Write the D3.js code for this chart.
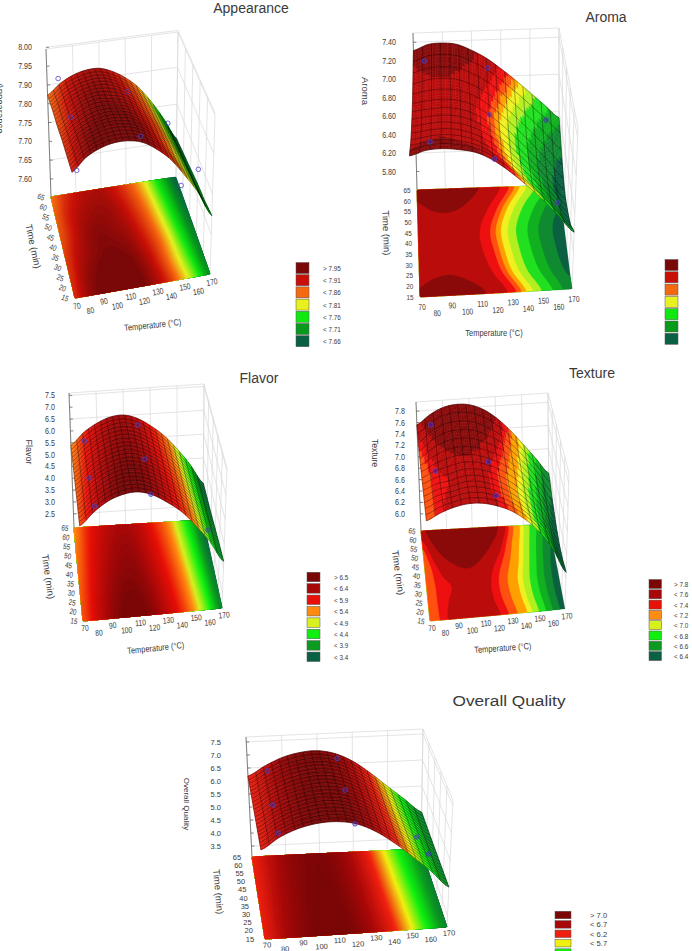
<!DOCTYPE html>
<html>
<head>
<meta charset="utf-8">
<script src="https://cdn.jsdelivr.net/npm/d3@7"></script>
<style>
  html, body { margin: 0; padding: 0; background: #fff; overflow: hidden; }
  svg { display: block; }
  text { font-family: "Liberation Sans", Arial, sans-serif; fill: #3a3a3a; }
</style>
</head>
<body>
<svg id="fig" width="692" height="951"></svg>
<script>
// Sensory response surfaces: temperature (°C) and time (min) against each score.
const temperatures = [70, 80, 90, 100, 110, 120, 130, 140, 150, 160, 170];
const times = [15, 25, 35, 45, 55, 65];
const temperatureTicks = [70, 80, 90, 100, 110, 120, 130, 140, 150, 160, 170];
const timeTicks = [15, 20, 25, 30, 35, 40, 45, 50, 55, 60, 65];

// Scores, one row per time, one column per temperature.
const appearanceScores = [
  [7.89, 7.925, 7.945, 7.955, 7.955, 7.945, 7.92, 7.885, 7.835, 7.78, 7.71],
  [7.885, 7.92, 7.94, 7.95, 7.95, 7.94, 7.915, 7.875, 7.825, 7.77, 7.70],
  [7.88, 7.91, 7.93, 7.94, 7.94, 7.93, 7.905, 7.87, 7.82, 7.76, 7.695],
  [7.87, 7.90, 7.925, 7.935, 7.93, 7.92, 7.895, 7.86, 7.81, 7.75, 7.685],
  [7.865, 7.895, 7.915, 7.925, 7.925, 7.91, 7.885, 7.85, 7.80, 7.74, 7.675],
  [7.855, 7.885, 7.905, 7.915, 7.915, 7.90, 7.875, 7.84, 7.79, 7.73, 7.665]
];
const aromaScores = [
  [7.29, 7.34, 7.35, 7.33, 7.29, 7.20, 7.07, 6.92, 6.76, 6.58, 6.40],
  [7.216, 7.245, 7.257, 7.237, 7.184, 7.085, 6.948, 6.792, 6.626, 6.446, 6.26],
  [7.18, 7.20, 7.21, 7.19, 7.13, 7.03, 6.89, 6.73, 6.56, 6.38, 6.19],
  [7.17, 7.19, 7.20, 7.18, 7.12, 7.01, 6.87, 6.71, 6.54, 6.36, 6.17],
  [7.22, 7.26, 7.27, 7.25, 7.184, 7.085, 6.952, 6.803, 6.644, 6.478, 6.306],
  [7.31, 7.37, 7.38, 7.36, 7.29, 7.20, 7.08, 6.95, 6.81, 6.67, 6.53]
];
const flavorScores = [
  [5.69, 6.2, 6.6, 6.82, 6.88, 6.72, 6.38, 5.95, 5.35, 4.65, 3.8],
  [5.66, 6.17, 6.55, 6.78, 6.82, 6.66, 6.33, 5.88, 5.28, 4.58, 3.75],
  [5.6, 6.1, 6.48, 6.7, 6.75, 6.58, 6.25, 5.8, 5.2, 4.5, 3.67],
  [5.54, 6.03, 6.4, 6.62, 6.67, 6.5, 6.16, 5.71, 5.11, 4.41, 3.58],
  [5.47, 5.97, 6.33, 6.55, 6.6, 6.43, 6.08, 5.63, 5.03, 4.33, 3.51],
  [5.40, 5.9, 6.25, 6.47, 6.52, 6.35, 6.0, 5.55, 4.95, 4.25, 3.44]
];
const textureScores = [
  [7.34, 7.45, 7.53, 7.57, 7.56, 7.50, 7.40, 7.24, 7.02, 6.72, 6.31],
  [7.35, 7.45, 7.50, 7.55, 7.54, 7.47, 7.36, 7.19, 6.96, 6.66, 6.25],
  [7.36, 7.45, 7.49, 7.55, 7.54, 7.47, 7.35, 7.18, 6.95, 6.65, 6.24],
  [7.37, 7.49, 7.58, 7.62, 7.60, 7.52, 7.41, 7.24, 7.0, 6.7, 6.3],
  [7.42, 7.60, 7.71, 7.74, 7.72, 7.63, 7.50, 7.30, 7.06, 6.77, 6.42],
  [7.56, 7.72, 7.83, 7.87, 7.85, 7.76, 7.6, 7.38, 7.12, 6.85, 6.58]
];
const overallScores = [
  [6.24, 6.65, 6.93, 7.08, 7.11, 7.0, 6.7, 6.25, 5.72, 5.15, 4.53],
  [6.23, 6.63, 6.91, 7.06, 7.10, 6.98, 6.68, 6.22, 5.69, 5.12, 4.52],
  [6.22, 6.61, 6.89, 7.05, 7.08, 6.96, 6.65, 6.19, 5.66, 5.1, 4.51],
  [6.21, 6.59, 6.87, 7.03, 7.07, 6.94, 6.63, 6.16, 5.62, 5.07, 4.5],
  [6.2, 6.57, 6.86, 7.01, 7.05, 6.92, 6.6, 6.13, 5.59, 5.04, 4.5],
  [6.19, 6.55, 6.84, 7.0, 7.04, 6.9, 6.58, 6.1, 5.55, 5.02, 4.5]
];

// Observed runs: temperature, time and score of each circle.
const appearanceRunTemp = [75, 127, 75, 125, 75, 157.5, 155, 162];
const appearanceRunTime = [55, 55, 30, 30, 20, 55, 30, 20];
const appearanceRunScore = [7.955, 7.888, 7.968, 7.886, 7.868, 7.775, 7.727, 7.821];
const aromaRunTemp = [78, 120, 159, 81.5, 119, 162, 121];
const aromaRunTime = [55, 55, 55, 30, 30, 30, 20];
const aromaRunScore = [7.415, 7.315, 6.73, 7.10, 7.36, 6.39, 7.105];
const flavorRunTemp = [79, 118.5, 79, 118, 81, 120, 163];
const flavorRunTime = [55, 55, 30, 30, 20, 20, 30];
const flavorRunScore = [6.27, 6.79, 6.53, 7.14, 6.09, 6.4, 4.05];
const textureRunTemp = [79.5, 79, 117, 120];
const textureRunTime = [55, 30, 30, 17.5];
const textureRunScore = [7.83, 7.74, 7.83, 7.6];
const overallRunTemp = [80, 119, 79, 117.6, 80, 120.6, 159.5, 160];
const overallRunTime = [55, 55, 30, 30, 20, 20, 40, 20];
const overallRunScore = [6.92, 7.27, 7.02, 7.44, 6.54, 6.73, 5.02, 5.5];

// Labels printed down the vertical axis of each panel, top to bottom.
const appearanceTickLabels = ["8.00", "7.95", "7.90", "7.80", "7.75", "7.70", "7.65", "7.60"];
const aromaTickLabels = ["7.40", "7.20", "7.00", "6.80", "6.60", "6.40", "6.20", "5.80"];
const flavorTickLabels = ["7.5", "7.0", "6.5", "6.0", "5.5", "5.0", "4.5", "4.0", "3.5", "3.0", "2.5"];
const textureTickLabels = ["7.8", "7.6", "7.4", "7.2", "7.0", "6.8", "6.6", "6.4", "6.2", "6.0"];
const overallTickLabels = ["7.5", "7.0", "6.5", "6.0", "5.5", "5.0", "4.5", "4.0", "3.5"];

// Legend entries, top to bottom.
const appearanceLegend = ["> 7.95", "< 7.91", "< 7.86", "< 7.81", "< 7.76", "< 7.71", "< 7.66"];
const flavorLegend = ["> 6.5", "< 6.4", "< 5.9", "< 5.4", "< 4.9", "< 4.4", "< 3.9", "< 3.4"];
const textureLegend = ["> 7.8", "< 7.6", "< 7.4", "< 7.2", "< 7.0", "< 6.8", "< 6.6", "< 6.4"];
const overallLegend = ["> 7.0", "< 6.7", "< 6.2", "< 5.7", "< 5.2"];

const legendSeven = ["#7a0808", "#c81008", "#f56a10", "#e8f020", "#10e810", "#089a1c", "#0a6044"];
const legendEight = ["#7a0606", "#a80808", "#e81008", "#ff8c10", "#d8f020", "#10f010", "#0c9a20", "#0a6044"];
const legendOverall = ["#7a0606", "#a80808", "#f02010", "#f0f010", "#10f010", "#0c9a20", "#0a6044"];

// Colour stops for the smooth maps, high score first.
const appearanceStops = [7.94, 7.90, 7.855, 7.815, 7.765, 7.715, 7.665];
const flavorStops = [6.8, 6.5, 6.0, 5.35, 5.05, 4.5, 3.95, 3.4];
const overallStops = [7.05, 6.7, 6.15, 5.65, 5.2, 4.7, 4.2];

// Band edges for the banded maps, low score first, with the band colours.
const bandColours = ["#0a6040", "#108a30", "#10b020", "#20e020", "#b0f020", "#f0f020", "#ffa000", "#ff5010", "#ee1010", "#bb0c0c", "#8a0a0a"];
const aromaBands = [6.32, 6.5, 6.63, 6.76, 6.85, 6.92, 6.97, 7.02, 7.1, 7.26];
const textureBands = [6.43, 6.68, 6.85, 7.0, 7.12, 7.2, 7.33, 7.42, 7.48, 7.6];

const tempUnit = d3.scaleLinear().domain([70, 170]).range([0, 1]);
const timeUnit = d3.scaleLinear().domain([15, 65]).range([0, 1]);

// Each panel: corners of the box (floor and ceiling), score range, labels and legend.
const panels = [
  { title: "Appearance", titleX: 251, titleY: 13, scores: appearanceScores, mesh: [22, 22],
    run: [appearanceRunTemp, appearanceRunTime, appearanceRunScore], runFill: "none",
    floor: { bl: [51, 197], fl: [75, 298], fr: [210, 274], br: [176, 177] },
    top: { bl: [46, 49], fl: [71, 134], fr: [215, 115], br: [178, 32] },
    zRange: [7.545, 7.995], tickEnds: [8.0, 7.6], tickLabels: appearanceTickLabels, tickGap: 19,
    zTitle: [-3, 108, 9.5], timeTitle: [30, 247, 78], tempTitle: [153, 328, -6],
    tempOff: [8, 15], timeOff: -10, timeRot: 22,
    stops: appearanceStops, stopColours: legendSeven,
    legend: { x: 296, y: 268, step: 12.2, w: 13, h: 11, labels: appearanceLegend, colours: legendSeven, tx: 323 } },
  { title: "Aroma", titleX: 606, titleY: 22, scores: aromaScores, mesh: [16, 13],
    run: [aromaRunTemp, aromaRunTime, aromaRunScore], runFill: "rgba(70,40,170,.45)",
    floor: { bl: [417, 190], fl: [420, 297], fr: [572, 289], br: [559, 185] },
    top: { bl: [413, 33], fl: [408, 136], fr: [578, 128], br: [559, 28] },
    zRange: [5.8, 7.5], tickEnds: [7.4, 6.0], tickLabels: aromaTickLabels, tickGap: 21,
    zTitle: [362, 91, 9.5], timeTitle: [383, 233, 88], tempTitle: [494, 336, 0],
    tempOff: [10, 17], timeOff: -10, timeRot: 0,
    bands: aromaBands,
    legend: { x: 665, y: 265, step: 12.3, w: 13, h: 11, labels: null, colours: legendSeven, tx: 0 } },
  { title: "Flavor", titleX: 259, titleY: 383, scores: flavorScores, mesh: [22, 20],
    run: [flavorRunTemp, flavorRunTime, flavorRunScore], runFill: "rgba(70,40,170,.35)",
    floor: { bl: [74, 528], fl: [83, 621], fr: [222, 608], br: [203, 520] },
    top: { bl: [69, 393], fl: [78, 478], fr: [227, 468], br: [204, 384] },
    zRange: [1.9, 7.6], tickEnds: [7.5, 2.5], tickLabels: flavorTickLabels, tickGap: 19,
    zTitle: [26, 452, 9], timeTitle: [45, 577, 82], tempTitle: [156, 651, -6],
    tempOff: [7, 13], timeOff: -9, timeRot: 10,
    stops: flavorStops, stopColours: legendEight,
    legend: { x: 307, y: 577, step: 11.4, w: 13, h: 9.5, labels: flavorLegend, colours: legendEight, tx: 334 } },
  { title: "Texture", titleX: 592, titleY: 378, scores: textureScores, mesh: [16, 14],
    run: [textureRunTemp, textureRunTime, textureRunScore], runFill: "rgba(70,20,170,.6)",
    floor: { bl: [421, 531], fl: [430, 621], fr: [565, 609], br: [549, 524] },
    top: { bl: [416, 402], fl: [425, 483], fr: [569, 473], br: [548, 393] },
    zRange: [5.7, 7.96], tickEnds: [7.8, 6.0], tickLabels: textureTickLabels, tickGap: 16,
    zTitle: [372, 453, 8.6], timeTitle: [395, 573, 82], tempTitle: [503, 651, -4],
    tempOff: [7, 13], timeOff: -9, timeRot: 12,
    bands: textureBands,
    legend: { x: 649, y: 584, step: 10.3, w: 12.5, h: 9, labels: textureLegend, colours: legendEight, tx: 674 } },
  { title: "Overall Quality", titleX: 509, titleY: 706, titleLength: 113, scores: overallScores, mesh: [22, 20],
    run: [overallRunTemp, overallRunTime, overallRunScore], runFill: "rgba(70,40,170,.4)",
    floor: { bl: [252, 857], fl: [265, 939], fr: [447, 927], br: [421, 849] },
    top: { bl: [246, 737], fl: [259, 809], fr: [453, 800], br: [423, 729] },
    zRange: [3.08, 7.69], tickEnds: [7.5, 3.5], tickLabels: overallTickLabels, tickGap: 31, wide: true,
    zTitle: [184, 804, 8], timeTitle: [215, 892, 85], tempTitle: null,
    tempOff: [6, 11], timeOff: -15, timeRot: 0,
    stops: overallStops, stopColours: legendOverall,
    legend: { x: 555, y: 915, step: 9.4, w: 16, h: 7.5, labels: overallLegend, colours: legendOverall, tx: 590 } }
];

const svg = d3.select("#fig");

const mix = (a, b, k) => a + (b - a) * k;
const corner = (c, u, v) => [0, 1].map(i =>
  mix(mix(c.fl[i], c.fr[i], u), mix(c.bl[i], c.br[i], u), v));

// Catmull-Rom through a row of values, so the drawn mesh is smooth between readings.
function through(row, k) {
  const last = row.length - 1;
  const i = Math.min(Math.floor(k), last - 1), f = k - i;
  const a = row[Math.max(i - 1, 0)], b = row[i], c = row[i + 1], d = row[Math.min(i + 2, last)];
  return b + 0.5 * f * (c - a + f * (2 * a - 5 * b + 4 * c - d + f * (3 * (b - c) + d - a)));
}
const tempIndex = d3.scaleLinear().domain(d3.extent(temperatures)).range([0, temperatures.length - 1]);
const timeIndex = d3.scaleLinear().domain(d3.extent(times)).range([0, times.length - 1]);
const scoreAt = (rows, T, t) => through(rows.map(r => through(r, tempIndex(T))), timeIndex(t));

function drawPanel(p) {
  const g = svg.append("g");
  const zUnit = d3.scaleLinear().domain(p.zRange).range([0, 1]);
  const place = (T, t, z) => {
    const u = tempUnit(T), v = timeUnit(t), w = zUnit(z);
    const a = corner(p.floor, u, v), b = corner(p.top, u, v);
    return [mix(a[0], b[0], w), mix(a[1], b[1], w)];
  };
  const line = d3.line();
  const tickScore = d3.scalePoint().domain(p.tickLabels).range(p.tickEnds);

  // Colour: stepped bands on two of the panels, a smooth ramp on the others.
  let colour, levels;
  if (p.bands) {
    colour = d3.scaleThreshold().domain(p.bands).range(bandColours);
    levels = p.bands;
  } else {
    colour = d3.scaleLinear().domain(p.stops).range(p.stopColours).clamp(true);
    const low = d3.min(p.stops), high = d3.max(p.stops);
    levels = d3.range(72).map(i => low + (high - low) * i / 71);
  }

  // Box walls behind the surface.
  const wall = g.append("g").attr("fill", "none").attr("stroke", "#d9d9d9").attr("stroke-width", 0.7);
  const gridScores = p.tickLabels.filter((d, i) => i % 2 === 0).map(tickScore);
  const [zLo, zHi] = p.zRange;
  [70, 90, 110, 130, 150, 170].forEach(T =>
    wall.append("path").attr("d", line([place(T, 65, zLo), place(T, 65, zHi)])));
  [15, 25, 35, 45, 55, 65].forEach(t =>
    wall.append("path").attr("d", line([place(170, t, zLo), place(170, t, zHi)])));
  [zLo, ...gridScores, zHi].forEach(z => {
    wall.append("path").attr("d", line([place(70, 65, z), place(170, 65, z), place(170, 15, z)]));
  });

  // Contour map on the floor of the box.
  const nx = 120, ny = 60;
  const values = [];
  for (let j = 0; j < ny; j++) for (let i = 0; i < nx; i++)
    values.push(scoreAt(p.scores, 70 + 100 * (i + 0.5) / nx, 15 + 50 * (j + 0.5) / ny));
  const floorPath = d3.geoPath(d3.geoTransform({
    point(x, y) { const q = corner(p.floor, x / nx, y / ny); this.stream.point(q[0], q[1]); }
  }));
  const contours = d3.contours().size([nx, ny]).thresholds(levels)(values);
  const plate = g.append("g");
  plate.append("path")
    .attr("d", line([p.floor.bl, p.floor.br, p.floor.fr, p.floor.fl]) + "Z")
    .attr("fill", colour(d3.min(values)));
  plate.selectAll("path.band").data(contours).join("path").attr("class", "band")
    .attr("d", floorPath)
    .attr("fill", d => colour(d.value + (p.bands ? 1e-6 : 0)))
    .attr("stroke", d => colour(d.value + (p.bands ? 1e-6 : 0)))
    .attr("stroke-width", 0.3);

  // Left-hand axis with tick marks.
  const axis = g.append("g");
  const axisAt = d => place(70, 65, tickScore(d));
  axis.append("path").attr("d", line([place(70, 65, zLo), place(70, 65, zHi)]))
    .attr("stroke", "#666").attr("stroke-width", 0.8).attr("fill", "none");
  axis.selectAll("line").data(p.tickLabels).join("line")
    .attr("x1", d => axisAt(d)[0])
    .attr("x2", d => axisAt(d)[0] + 3)
    .attr("y1", d => axisAt(d)[1])
    .attr("y2", d => axisAt(d)[1])
    .attr("stroke", "#555").attr("stroke-width", 0.7);

  // Surface: small coloured facets from the back edge forwards, then the wire mesh over them.
  const facetT = d3.range(61).map(i => 70 + 100 * i / 60);
  const facetTime = d3.range(46).map(i => 65 - 50 * i / 45);
  const facets = g.append("g").attr("stroke-width", 0.5);
  for (let j = 0; j < facetTime.length - 1; j++) {
    for (let i = 0; i < facetT.length - 1; i++) {
      const T0 = facetT[i], T1 = facetT[i + 1], t0 = facetTime[j], t1 = facetTime[j + 1];
      const quad = [[T0, t0], [T1, t0], [T1, t1], [T0, t1]]
        .map(([T, t]) => place(T, t, scoreAt(p.scores, T, t)));
      const c = colour(scoreAt(p.scores, (T0 + T1) / 2, (t0 + t1) / 2));
      facets.append("path").attr("d", line(quad) + "Z").attr("fill", c).attr("stroke", c);
    }
  }
  const [meshT, meshTime] = p.mesh;
  const wire = g.append("g").attr("fill", "none").attr("stroke", "#000")
    .attr("stroke-opacity", 0.6).attr("stroke-width", 0.55);
  d3.range(meshTime + 1).forEach(j => {
    const t = 15 + 50 * j / meshTime;
    wire.append("path").attr("d", line(facetT.map(T => place(T, t, scoreAt(p.scores, T, t)))));
  });
  d3.range(meshT + 1).forEach(i => {
    const T = 70 + 100 * i / meshT;
    wire.append("path").attr("d", line(facetTime.map(t => place(T, t, scoreAt(p.scores, T, t)))));
  });

  // Observed runs.
  const [runT, runTime, runZ] = p.run;
  g.append("g").selectAll("circle").data(runT).join("circle")
    .attr("cx", (d, i) => place(runT[i], runTime[i], runZ[i])[0])
    .attr("cy", (d, i) => place(runT[i], runTime[i], runZ[i])[1])
    .attr("r", 2.3).attr("fill", p.runFill)
    .attr("stroke", "#4a44c4").attr("stroke-width", 0.8);

  // Text. Tick labels are squeezed horizontally except on the last panel.
  const squeeze = p.wide ? 1 : 0.79;
  const t = g.append("text").attr("x", p.titleX).attr("y", p.titleY)
    .attr("text-anchor", "middle").attr("font-size", 14).text(p.title);
  if (p.titleLength) t.attr("textLength", p.titleLength).attr("lengthAdjust", "spacingAndGlyphs");

  const tickX = place(70, 65, zLo)[0] - p.tickGap;
  g.append("g").selectAll("text").data(p.tickLabels).join("text")
    .attr("transform", d => `translate(${tickX},${axisAt(d)[1] + 3}) scale(${squeeze},1)`)
    .attr("text-anchor", "end").attr("font-size", p.wide ? 7.5 : 9)
    .text(d => d);

  const front = [corner(p.floor, 0, 0), corner(p.floor, 1, 0)];
  const tilt = Math.atan2(front[1][1] - front[0][1], front[1][0] - front[0][0]) * 180 / Math.PI;
  g.append("g").selectAll("text").data(temperatureTicks).join("text")
    .attr("transform", (d, i) => {
      const q = corner(p.floor, tempUnit(d), 0);
      return `translate(${q[0] + 2},${q[1] + p.tempOff[i % 2]}) rotate(${tilt}) scale(${squeeze},1)`;
    })
    .attr("text-anchor", "middle").attr("dy", "0.35em")
    .attr("font-size", p.wide ? 7.5 : 8.5).text(d => d);

  g.append("g").selectAll("text").data(timeTicks).join("text")
    .attr("transform", d => {
      const q = corner(p.floor, 0, timeUnit(d));
      return `translate(${q[0] + p.timeOff},${q[1]}) rotate(${p.timeRot}) scale(${squeeze},1)`;
    })
    .attr("text-anchor", "middle").attr("dy", "0.35em")
    .attr("font-size", p.wide ? 7.5 : 8).text(d => d);

  const [zx, zy, zs] = p.zTitle;
  g.append("text").attr("transform", `translate(${zx},${zy}) rotate(90)`)
    .attr("text-anchor", "middle").attr("font-size", zs).text(p.title);
  const [tx, ty, tr] = p.timeTitle;
  g.append("text").attr("transform", `translate(${tx},${ty}) rotate(${tr})`)
    .attr("text-anchor", "middle").attr("font-size", 9.5).text("Time (min)");
  if (p.tempTitle) {
    const [ax, ay, ar] = p.tempTitle;
    g.append("text").attr("transform", `translate(${ax},${ay}) rotate(${ar}) scale(0.83,1)`)
      .attr("text-anchor", "middle").attr("font-size", 9).text("Temperature (°C)");
  }

  // Legend.
  const L = p.legend;
  const rows = L.labels || L.colours;
  const key = g.append("g");
  key.selectAll("rect").data(rows).join("rect")
    .attr("x", L.x).attr("y", (d, i) => L.y + i * L.step - L.h / 2)
    .attr("width", L.w).attr("height", L.h)
    .attr("fill", (d, i) => L.colours[i]).attr("stroke", "#555").attr("stroke-width", 0.5);
  if (L.labels) key.selectAll("text").data(L.labels).join("text")
    .attr("transform", (d, i) => `translate(${L.tx},${L.y + i * L.step + 3}) scale(${p.wide ? 0.95 : squeeze},1)`)
    .attr("font-size", 8).text(d => d);
}

panels.forEach(drawPanel);
</script>
</body>
</html>
